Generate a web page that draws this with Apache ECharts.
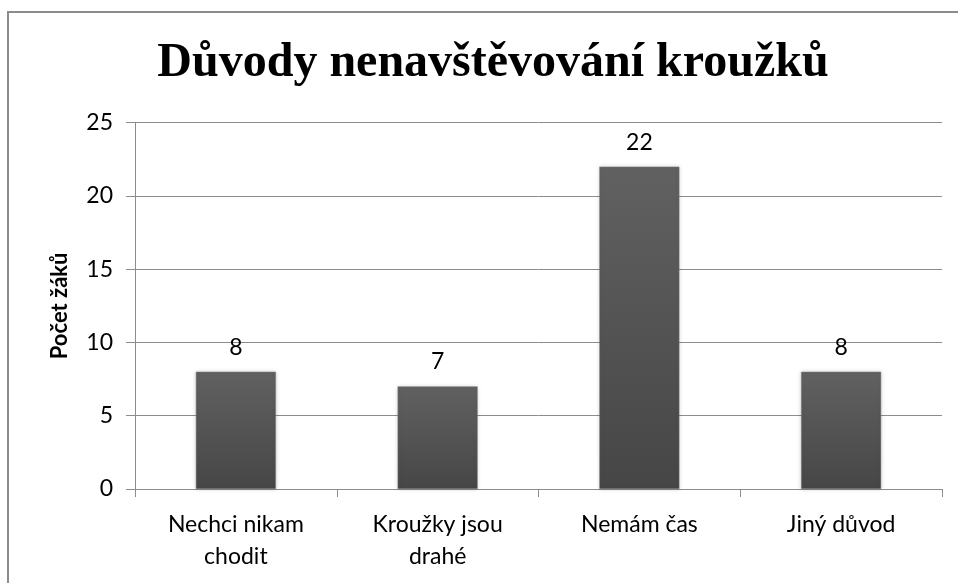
<!DOCTYPE html>
<html>
<head>
    <meta charset="utf-8">
    <title>Důvody nenavštěvování kroužků</title>
    <script type="text/javascript" src="https://cdn.jsdelivr.net/npm/echarts@6/dist/echarts.min.js"></script>
    <style>
        html, body { margin: 0; padding: 0; background: #fff; }
    </style>
</head>
<body>
    <div id="chart" style="width: 958px;height:583px;"></div>
</body>
<script type="text/javascript">
    var categories = ['Nechci nikam\nchodit', 'Kroužky jsou\ndrahé', 'Nemám čas', 'Jiný důvod'];
    var counts = [8, 7, 22, 8];
    var yTicks = [0, 5, 10, 15, 20, 25];

    var labelFont = 'Lato, "Open Sans", sans-serif';
    var chart = echarts.init(document.getElementById("chart"));
    chart.setOption({
        animation: false,
        backgroundColor: '#fff',
        title: {
            text: 'Důvody nenavštěvování kroužků',
            left: 488,
            textAlign: 'center',
            top: 35,
            textStyle: {
                fontFamily: '"Liberation Serif", "DejaVu Serif", serif',
                fontWeight: 'bold',
                fontSize: 48,
                color: '#000'
            }
        },
        // ramecek grafu
        graphic: [{
            type: 'rect',
            shape: { x: 8, y: 12, width: 1000, height: 620 },
            style: { fill: 'none', stroke: '#8c8c8c', lineWidth: 2 },
            silent: true,
            z: -1
        }],
        grid: {
            left: 135,
            right: 16,
            top: 122.7,
            bottom: 94
        },
        xAxis: {
            type: 'category',
            data: categories,
            axisLine: { lineStyle: { color: '#8c8c8c', width: 1 } },
            axisTick: { show: true, length: 8, lineStyle: { color: '#8c8c8c' } },
            axisLabel: {
                margin: 20,
                fontFamily: labelFont,
                fontSize: 23,
                lineHeight: 32,
                color: '#000'
            }
        },
        yAxis: {
            type: 'value',
            min: yTicks[0],
            max: yTicks[yTicks.length - 1],
            interval: 5,
            name: 'Počet žáků',
            nameLocation: 'middle',
            nameGap: 64,
            nameTextStyle: {
                fontFamily: labelFont,
                fontWeight: 'bold',
                fontSize: 22,
                color: '#000'
            },
            axisLine: { show: true, lineStyle: { color: '#8c8c8c', width: 1 } },
            axisTick: { show: true, length: 9, lineStyle: { color: '#8c8c8c' } },
            splitLine: { lineStyle: { color: '#8c8c8c', width: 1 } },
            axisLabel: {
                margin: 22,
                fontFamily: labelFont,
                fontSize: 23,
                color: '#000'
            }
        },
        series: [{
            type: 'bar',
            data: counts,
            barWidth: 80,
            itemStyle: {
                color: new echarts.graphic.LinearGradient(0, 0, 0, 1, [
                    { offset: 0, color: '#616161' },
                    { offset: 1, color: '#464646' }
                ]),
                borderColor: '#7a7a7a',
                borderWidth: 0.5,
                shadowColor: 'rgba(0,0,0,0.18)',
                shadowBlur: 4
            },
            label: {
                show: true,
                position: 'top',
                distance: 13,
                fontFamily: labelFont,
                fontSize: 23,
                color: '#000'
            }
        }]
    });
</script>
</html>
